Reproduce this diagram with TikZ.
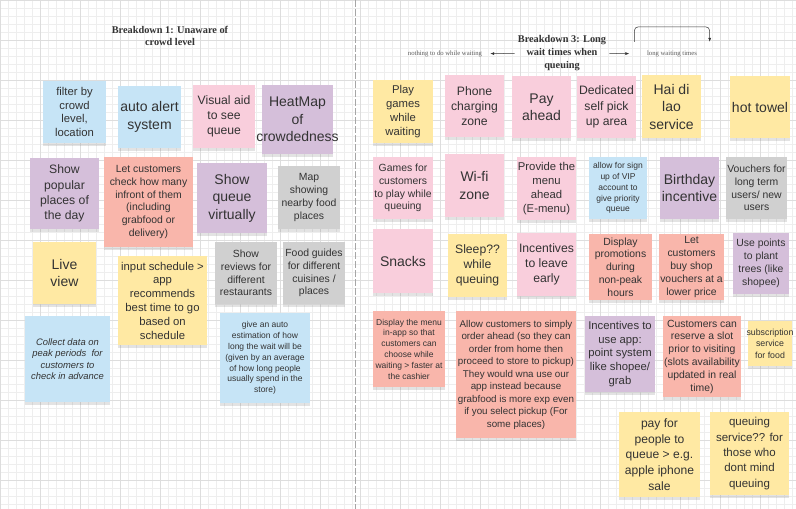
\documentclass[tikz,border=0pt]{standalone}
\usepackage{fontspec}
\setmainfont{Liberation Sans}
\newfontfamily\titlefont{Liberation Serif}
\usepackage{xcolor}
\usetikzlibrary{positioning,arrows.meta,shadows}

\definecolor{ink}{HTML}{333333}
\definecolor{noteyel}{HTML}{FFE9A3}
\definecolor{noteblue}{HTML}{C6E4F6}
\definecolor{notepink}{HTML}{F9CEDC}
\definecolor{notesalmon}{HTML}{F9B6AB}
\definecolor{notepurple}{HTML}{D5BFDA}
\definecolor{notegray}{HTML}{D0D0D0}
\definecolor{gridminor}{HTML}{EEEEEE}
\definecolor{gridmajor}{HTML}{DDDDDD}

\begin{document}
\begin{tikzpicture}[
  x=1pt, y=-1pt,
  note/.style={align=center, inner sep=1pt, text=ink,
    drop shadow={shadow xshift=0pt, shadow yshift=-2.5pt, opacity=0.22}},
  sz/.style 2 args={minimum width=#1pt, minimum height=#2pt},
  yel/.style={note, fill=noteyel},
  blu/.style={note, fill=noteblue},
  pnk/.style={note, fill=notepink},
  sal/.style={note, fill=notesalmon},
  pur/.style={note, fill=notepurple},
  gry/.style={note, fill=notegray},
  xl/.style={font=\fontsize{14}{17.5}\selectfont},
  lg/.style={font=\fontsize{12.2}{15.3}\selectfont},
  md/.style={font=\fontsize{11.3}{13.8}\selectfont},
  sm/.style={font=\fontsize{10.4}{12.8}\selectfont},
  xs/.style={font=\fontsize{8.5}{10.8}\selectfont},
  heading/.style={align=center, text=ink, inner xsep=3pt,
    font=\titlefont\bfseries\fontsize{10.3}{12.6}\selectfont},
  remark/.style={text=ink!80, inner xsep=8pt, font=\titlefont\fontsize{6.7}{8}\selectfont},
  arr/.style={-{Latex[length=4pt,width=3pt]}, ink, line width=0.5pt}
]
\useasboundingbox (0,0) rectangle (796,509);
\clip (0,0) rectangle (796,509);
\fill[white] (0,0) rectangle (796,509);
\draw[gridminor, line width=0.5pt, step=8pt] (0,0) grid (796,509);
\draw[gridmajor, line width=0.6pt, step=40pt] (0,0) grid (796,509);

% divider between the two breakdowns
\draw[black!35, line width=0.8pt, dash pattern=on 7pt off 2pt] (355,0) -- (355,509);

% Breakdown 1
\node[heading] (bd1) at (170,36) {Breakdown 1: Unaware of\\crowd level};

\node[blu, sz={63}{62}, md] (filt) at (74.5,112) {filter by\\crowd\\level,\\location};
\node[blu, sz={63}{62}, xl] (alert) at (149.5,117) {auto alert\\system};
\node[pnk, sz={62}{63}, lg] (visual) at (224,116.5) {Visual aid\\to see\\queue};
\node[pur, sz={69}{69}, xl, inner xsep=-6pt] (heat) at (297.5,119.5) {HeatMap\\of\\crowdedness};

\node[pur, sz={69}{71}, lg] (popular) at (64.5,193.5) {Show\\popular\\places of\\the day};
\node[sal, sz={89}{90}, sm] (howmany) at (148.5,202) {Let customers\\check how many\\infront of them\\(including\\grabfood or\\delivery)};
\node[pur, sz={70}{70}, xl] (virtual) at (232,198) {Show\\queue\\virtually};
\node[gry, sz={62}{63}, sm] (map) at (309,197.5) {Map\\showing\\nearby food\\places};

\node[yel, sz={63}{62}, xl] (live) at (64.5,273) {Live\\view};
\node[yel, sz={89}{89}, md] (sched) at (162.5,300.5) {input schedule >\\app\\recommends\\best time to go\\based on\\schedule};
\node[gry, sz={62}{62}, sm] (reviews) at (246,273) {Show\\reviews for\\different\\restaurants};
\node[gry, sz={62}{62}, sm] (guides) at (314,273) {Food guides\\for different\\cuisines /\\places};

\node[blu, sz={85}{86}, font=\itshape\fontsize{9.4}{11.5}\selectfont] (collect) at (67.5,359) {Collect data on\\peak periods\ \ for\\customers to\\check in advance};
\node[blu, sz={90}{90}, xs] (estimate) at (265,358) {give an auto\\estimation of how\\long the wait will be\\(given by an average\\of how long people\\usually spend in the\\store)};

% Breakdown 3
\node[heading] (bd3) at (562,53) {Breakdown 3: Long\\wait times when\\queuing};
\node[remark] (nothing) at (445,54) {nothing to do while waiting};
\node[remark, minimum width=75pt, minimum height=24pt] (lwait) at (672,54) {long waiting times};

\draw[arr] (bd3) -- (nothing);
\draw[arr, shorten >=5pt] (bd3) -- (lwait);
\draw[arr, rounded corners=4pt] (lwait.north west) -- ++(0,-15) -| (lwait.north east);

\node[yel, sz={60}{63}, md] (play) at (403,111.5) {Play\\games\\while\\waiting};
\node[pnk, sz={59}{62}, lg] (phone) at (474.5,106) {Phone\\charging\\zone};
\node[pnk, sz={59}{62}, xl] (payahead) at (541.5,107) {Pay\\ahead};
\node[pnk, sz={59}{62}, lg] (pickup) at (606.5,107) {Dedicated\\self pick\\up area};
\node[yel, sz={59}{63}, xl] (haidilao) at (671.5,106.5) {Hai di\\lao\\service};
\node[yel, sz={60}{62}, xl] (towel) at (760,107) {hot towel};

\node[pnk, sz={60}{62}, sm] (games) at (403,188) {Games for\\customers\\to play while\\queuing};
\node[pnk, sz={59}{63}, xl] (wifi) at (474.5,185.5) {Wi-fi\\zone};
\node[pnk, sz={59}{63}, md] (emenu) at (546.5,188.5) {Provide the\\menu\\ahead\\(E-menu)};
\node[blu, sz={58}{62}, xs] (vip) at (618,188) {allow for sign\\up of VIP\\account to\\give priority\\queue};
\node[pur, sz={59}{62}, xl] (bday) at (689.5,188) {Birthday\\incentive};
\node[gry, sz={59}{62}, sm] (vouchers) at (756.5,188) {Vouchers for\\long term\\users/ new\\users};

\node[pnk, sz={60}{64}, xl] (snacks) at (403,261) {Snacks};
\node[yel, sz={59}{63}, lg] (sleep) at (477.5,265.5) {Sleep??\\while\\queuing};
\node[pnk, sz={59}{63}, lg] (leave) at (546.5,264.5) {Incentives\\to leave\\early};
\node[sal, sz={63}{66}, sm] (promo) at (620.5,267) {Display\\promotions\\during\\non-peak\\hours};
\node[sal, sz={63}{66}, sm] (shopvouch) at (691.5,267) {Let\\customers\\buy shop\\vouchers at a\\lower price};
\node[pur, sz={56}{61}, sm] (trees) at (761,263.5) {Use points\\to plant\\trees (like\\shopee)};

\node[sal, sz={72}{76}, xs] (inapp) at (409,349) {Display the menu\\in-app so that\\customers can\\choose while\\waiting > faster at\\the cashier};
\node[sal, sz={120}{127}, font=\fontsize{9.8}{12.5}\selectfont] (orderahead) at (516,374.5) {Allow customers to simply\\order ahead (so they can\\order from home then\\proceed to store to pickup)\\They would wna use our\\app instead because\\grabfood is more exp even\\if you select pickup (For\\some places)};
\node[pur, sz={70}{76}, md] (useapp) at (620,354) {Incentives to\\use app:\\point system\\like shopee/\\grab};
\node[sal, sz={76}{81}, sm] (reserve) at (702,356.5) {Customers can\\reserve a slot\\prior to visiting\\(slots availability\\updated in real\\time)};
\node[yel, sz={44}{45}, inner xsep=-7pt, font=\fontsize{8.8}{11.5}\selectfont] (subs) at (770,343.5) {subscription\\service\\for food};

\node[yel, sz={81}{85}, font=\fontsize{12.1}{15.8}\selectfont] (payqueue) at (659.5,454.5) {pay for\\people to\\queue > e.g.\\apple iphone\\sale};
\node[yel, sz={79}{83}, font=\fontsize{11.5}{15.3}\selectfont] (qservice) at (749.5,453.5) {queuing\\service?? for\\those who\\dont mind\\queuing};
\end{tikzpicture}
\end{document}
